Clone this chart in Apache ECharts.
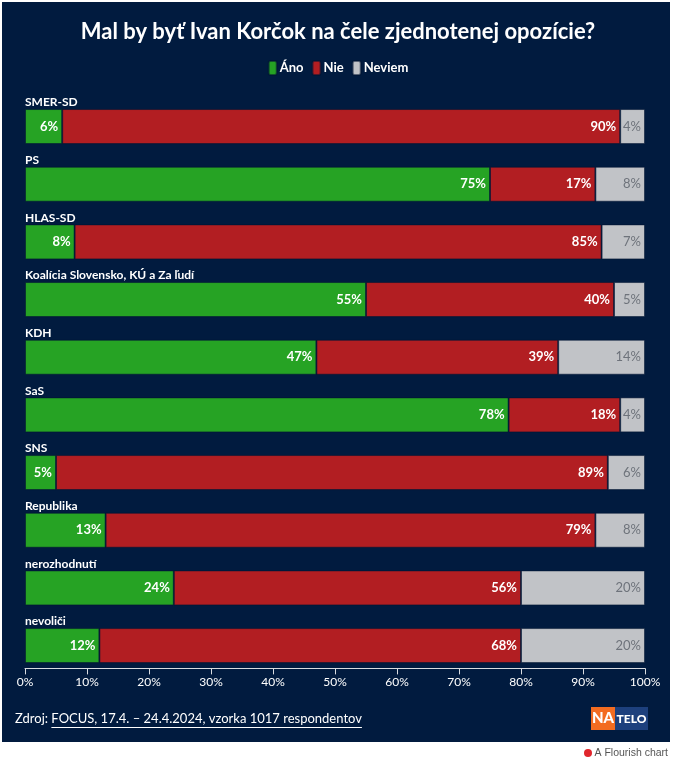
<!DOCTYPE html>
<html>
<head>
<meta charset="utf-8">
<script src="https://cdn.jsdelivr.net/npm/echarts@6/dist/echarts.min.js"></script>
<style>
html,body{margin:0;padding:0;background:#fff;}
#chart{width:676px;height:766px;}
</style>
</head>
<body>
<div id="chart"></div>
<script>
const categories = ['SMER-SD','PS','HLAS-SD','Koalícia Slovensko, KÚ a Za ľudí','KDH','SaS','SNS','Republika','nerozhodnutí','nevoliči'];
const ano    = [6,75,8,55,47,78,5,13,24,12];
const nie    = [90,17,85,40,39,18,89,79,56,68];
const neviem = [4,8,7,5,14,4,6,8,20,20];
const xTicks = [0,10,20,30,40,50,60,70,80,90,100];

const FONT = 'Lato';
const BG = '#011b3f';
const chart = echarts.init(document.getElementById('chart'), null, {renderer:'canvas'});

function measure(text, font){
  const c = document.createElement('canvas').getContext('2d');
  c.font = font; return c.measureText(text).width;
}
const srcFont = '13px ' + FONT;
const zdrojW = measure('Zdroj: ', srcFont);
const linkText = 'FOCUS, 17.4. – 24.4.2024, vzorka 1017 respondentov';
const linkW = measure(linkText, srcFont);

const barBorder = {borderColor:'rgba(1,20,50,0.55)', borderWidth:1};
function mkSeries(name, data, color, labelColor, bold){
  return {
    name, type:'bar', stack:'t', data, barWidth:35,
    itemStyle: Object.assign({color}, barBorder),
    label:{show:true, position:'insideRight', distance:4, formatter:'{c}%',
      color:labelColor, fontFamily:FONT, fontSize:13, fontWeight: bold?'bold':'normal'},
    emphasis:{disabled:true}
  };
}

chart.setOption({
  animation:false,
  backgroundColor:'#fff',
  textStyle:{fontFamily:FONT},
  title:{text:'Mal by byť Ivan Korčok na čele zjednotenej opozície?', left:'center', top:16,
    textStyle:{color:'#fff', fontSize:22, fontWeight:'bold', fontFamily:FONT}},
  legend:{top:55, left:'center', itemWidth:8, itemHeight:14, itemGap:8, icon:'roundRect',
    textStyle:{color:'#fff', fontSize:13, fontWeight:'bold', fontFamily:FONT, padding:[0,0,0,-2]},
    data:['Áno','Nie','Neviem']},
  grid:{left:25, right:31, top:97.7, height:576.7, containLabel:false},
  xAxis:{type:'value', min:0, max:100, interval:10, offset:-6,
    axisLine:{show:true, lineStyle:{color:'#d8dbe0', width:1}},
    axisTick:{show:true, length:6, lineStyle:{color:'#d8dbe0'}},
    splitLine:{show:false},
    axisLabel:{color:'#fff', fontSize:12, fontFamily:FONT, margin:8,
      formatter:v => xTicks.includes(v) ? v + '%' : ''}},
  yAxis:{type:'category', data:categories, inverse:true,
    axisLine:{show:false}, axisTick:{show:false}, splitLine:{show:false},
    axisLabel:{inside:true, margin:0, align:'left', verticalAlign:'bottom', padding:[0,0,18,0],
      color:'#fff', fontSize:12, fontFamily:FONT, fontWeight:'bold'}},
  graphic:[
    {type:'rect', z:-100, silent:true, shape:{x:2,y:2,width:668,height:740}, style:{fill:BG}},
    {type:'text', x:15, y:719, style:{text:'Zdroj: ', fill:'#fff', font:srcFont, textVerticalAlign:'middle'}},
    {type:'text', x:15+zdrojW, y:719, style:{text:linkText, fill:'#fff', font:srcFont, textVerticalAlign:'middle'}},
    {type:'rect', shape:{x:15+zdrojW, y:727, width:linkW, height:1}, style:{fill:'#fff'}},
    {type:'rect', shape:{x:591,y:707,width:24,height:23}, style:{fill:'#f36c21'}},
    {type:'text', x:603, y:718.5, style:{text:'NA', fill:'#fff', font:'900 15px '+FONT, textAlign:'center', textVerticalAlign:'middle'}},
    {type:'rect', shape:{x:615,y:707,width:33,height:23}, style:{fill:'#1d407d'}},
    {type:'text', x:631.5, y:719, style:{text:'TELO', fill:'#fff', font:'900 12px '+FONT, textAlign:'center', textVerticalAlign:'middle'}},
    {type:'circle', shape:{cx:588, cy:753, r:4}, style:{fill:'#e0262c'}},
    {type:'text', x:668, y:753, style:{text:'A Flourish chart', fill:'#555', font:'10.5px "Liberation Sans"', textAlign:'right', textVerticalAlign:'middle'}}
  ],
  series:[
    mkSeries('Áno', ano, '#26a324', '#fff', true),
    mkSeries('Nie', nie, '#b21e22', '#fff', true),
    mkSeries('Neviem', neviem, '#c1c3c7', '#6e737b', false)
  ],
  color:['#26a324','#b21e22','#c1c3c7']
});
</script>
</body>
</html>
